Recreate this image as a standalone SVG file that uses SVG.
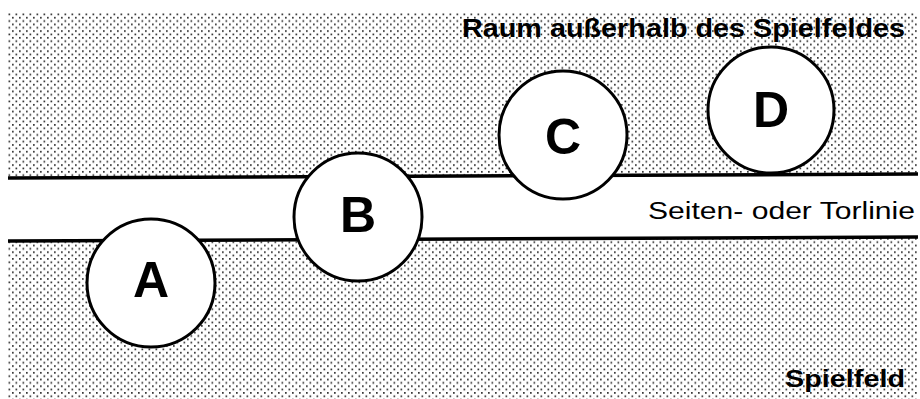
<svg xmlns="http://www.w3.org/2000/svg" width="920" height="399" viewBox="0 0 920 399">
<style>
.lbl{font-family:"Liberation Sans",Arial,sans-serif;fill:#000}
.bold{font-weight:bold}
.node circle{fill:#fff;stroke:#000;stroke-width:3}
.node text{font-family:"Liberation Sans",Arial,sans-serif;font-weight:bold;font-size:50px;text-anchor:middle;fill:#000}
.line{stroke:#000;stroke-width:3.5;fill:none}
</style>
<defs>
<pattern id="dots" width="7" height="6.7" patternUnits="userSpaceOnUse" x="8" y="13">
<rect x="0.5" y="0.5" width="1.7" height="1.7" fill="#333"/>
<rect x="4" y="3.85" width="1.7" height="1.7" fill="#333"/>
</pattern>
</defs>
<rect width="920" height="399" fill="#fff"/>
<rect x="8" y="13" width="910" height="386" fill="url(#dots)"/>
<polygon points="8,178 918,174 918,237 8,241" fill="#fff"/>
<g id="connectors">
<line class="line" x1="8" y1="178" x2="918" y2="174"/>
<line class="line" x1="8" y1="241" x2="918" y2="237"/>
</g>
<text class="lbl bold" x="462" y="37" font-size="26" textLength="443" lengthAdjust="spacingAndGlyphs">Raum außerhalb des Spielfeldes</text>
<text class="lbl" x="648" y="219" font-size="23" textLength="267" lengthAdjust="spacingAndGlyphs">Seiten- oder Torlinie</text>
<text class="lbl bold" x="785" y="387" font-size="24" textLength="120" lengthAdjust="spacingAndGlyphs">Spielfeld</text>
<g id="node-A" class="node"><circle cx="151" cy="283" r="64"/><text x="151" y="297">A</text></g>
<g id="node-B" class="node"><circle cx="358" cy="217" r="64"/><text x="358" y="232">B</text></g>
<g id="node-C" class="node"><circle cx="563" cy="135" r="64"/><text x="563" y="154">C</text></g>
<g id="node-D" class="node"><circle cx="771" cy="110" r="63"/><text x="771" y="127">D</text></g>
</svg>
